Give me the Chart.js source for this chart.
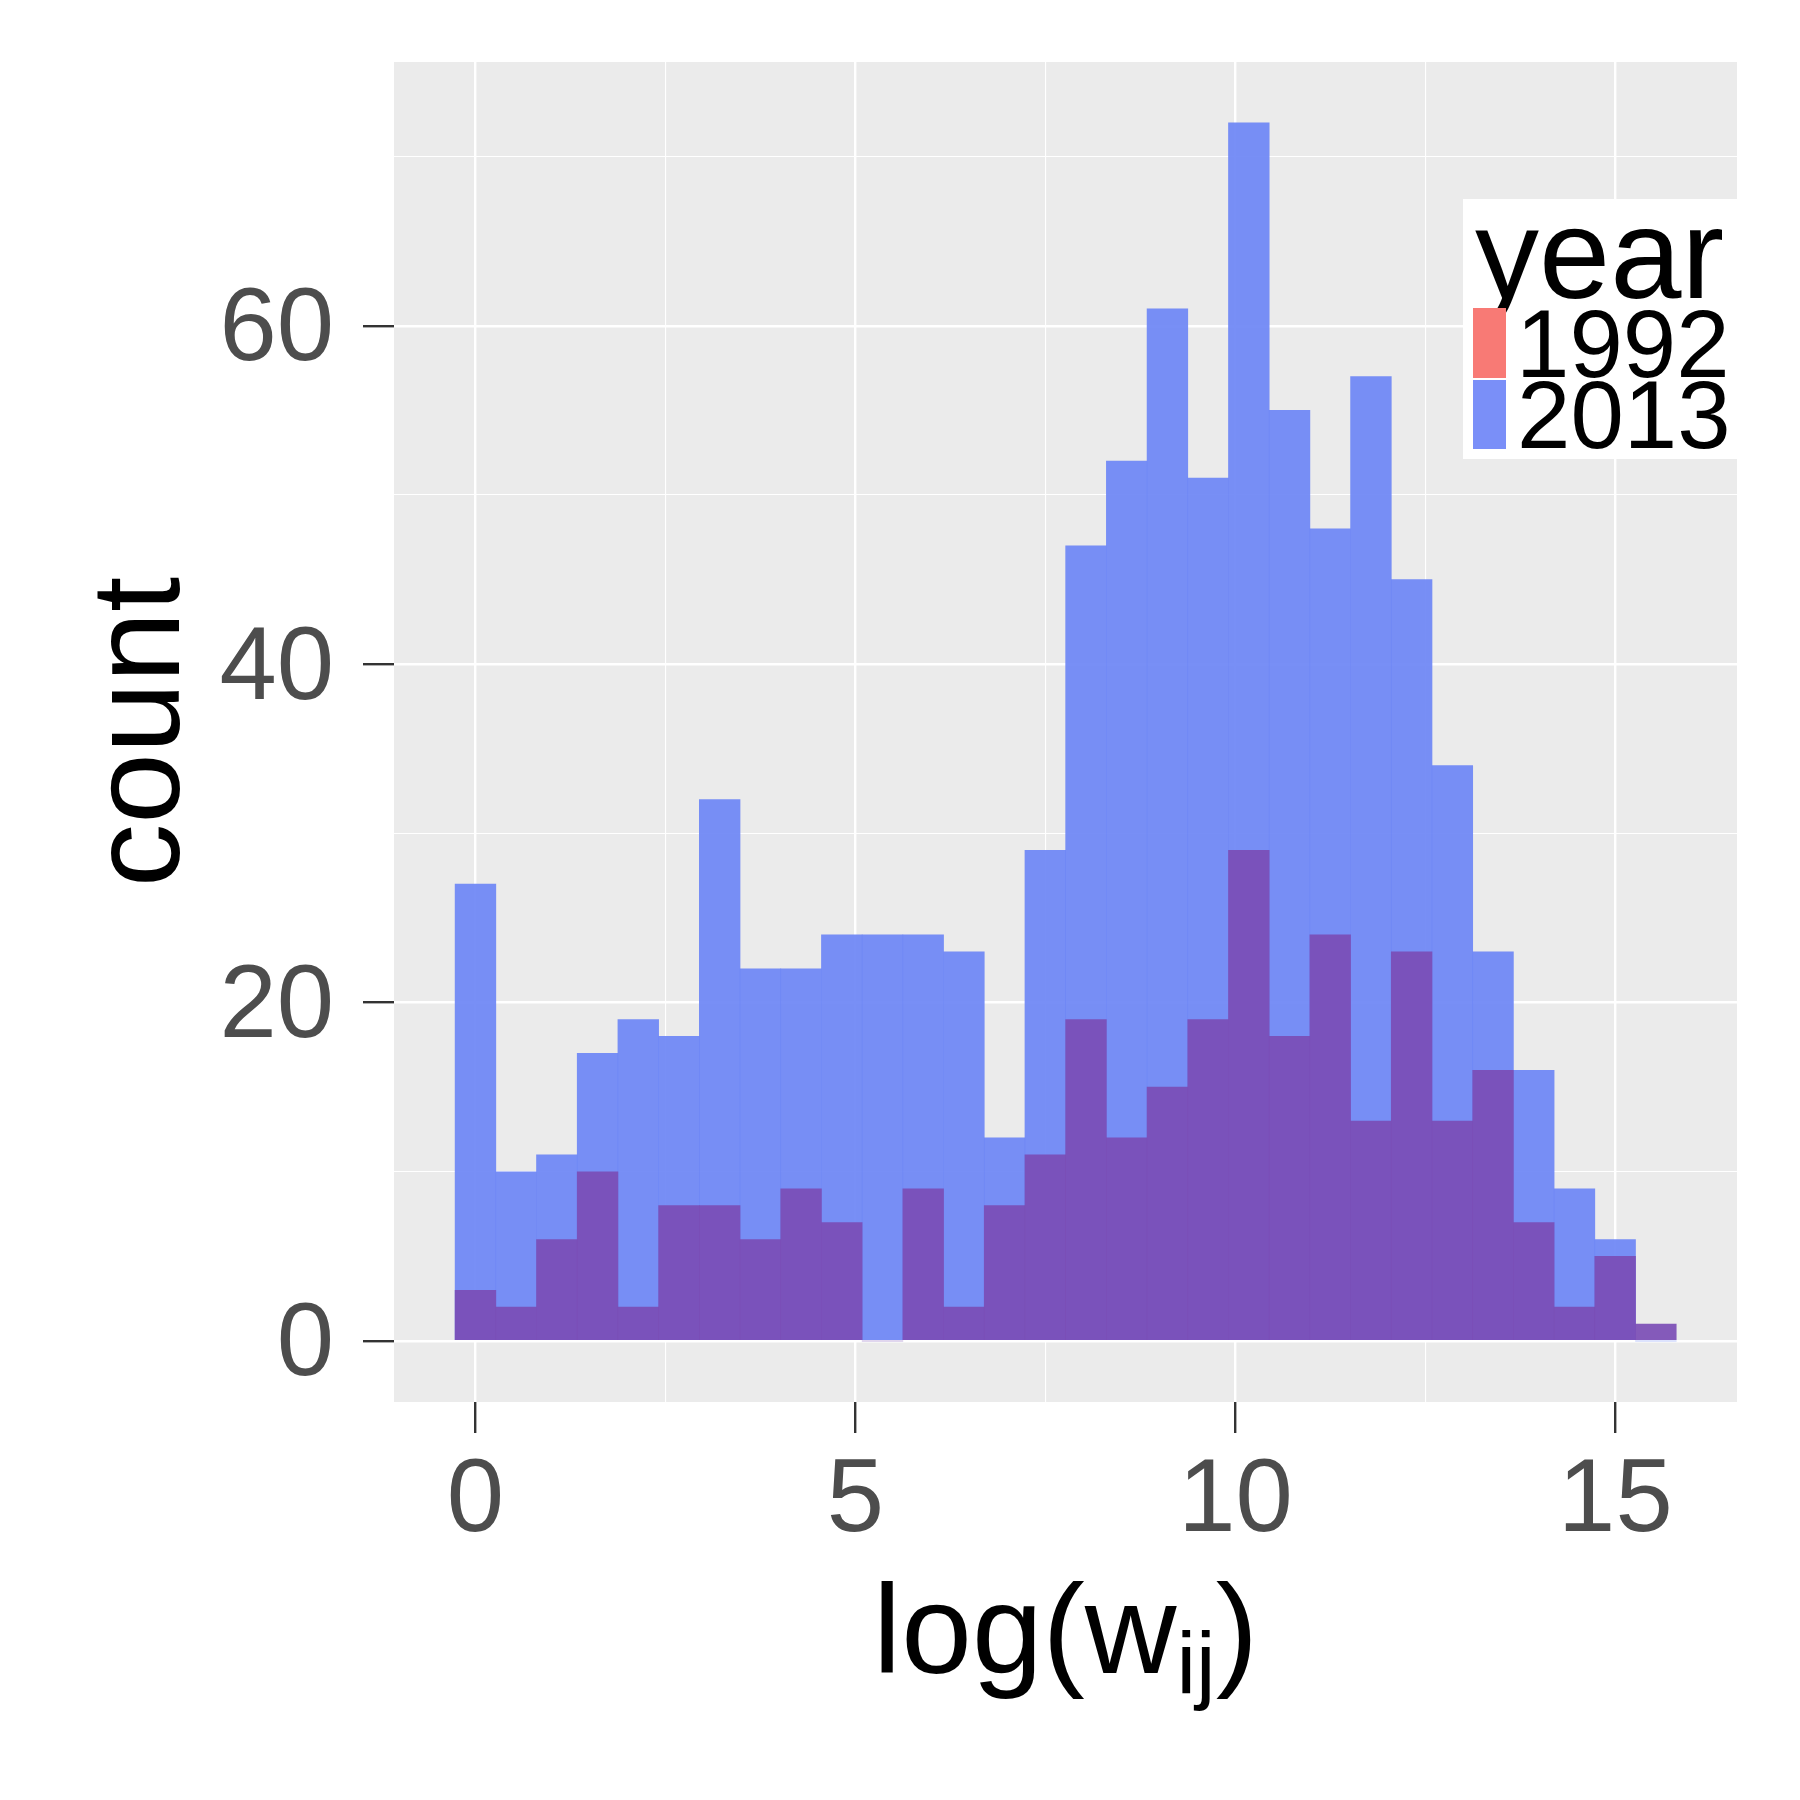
<!DOCTYPE html>
<html>
<head>
<meta charset="utf-8">
<script src="https://cdn.jsdelivr.net/npm/chart.js@4/dist/chart.umd.min.js"></script>
<style>
  body { margin: 0; background: #ffffff; }
  #wrap { width: 1800px; height: 1800px; }
</style>
</head>
<body>
<div id="wrap"><canvas id="myChart" width="1800" height="1800"></canvas></div>
<script>
// histogram bins (centres of log(w_ij) bins)
const binCenters = [0, 0.5356, 1.0712, 1.6068, 2.1424, 2.6780, 3.2136, 3.7492, 4.2848, 4.8204,
  5.3560, 5.8916, 6.4272, 6.9628, 7.4984, 8.0340, 8.5696, 9.1052, 9.6408, 10.1764,
  10.7120, 11.2476, 11.7832, 12.3188, 12.8544, 13.3900, 13.9256, 14.4612, 14.9968, 15.5324];

const count1992 = [3, 2, 6, 10, 2, 8, 8, 6, 9, 7, 0, 9, 2, 8, 11, 19, 12, 15, 19, 29,
  18, 24, 13, 23, 13, 16, 7, 2, 5, 1];
const count2013 = [27, 10, 11, 17, 19, 18, 32, 22, 22, 24, 24, 24, 23, 12, 29, 47, 52, 61, 51, 72,
  55, 48, 57, 45, 34, 23, 16, 9, 6, 0];

const years = ["1992", "2013"];
const xTickLabels = [0, 5, 10, 15];
const yTickLabels = [0, 20, 40, 60];

const FONT = "'Liberation Sans', Arial, Helvetica, sans-serif";

function toPoints(values) {
  return values.map((v, i) => ({ x: binCenters[i], y: v }));
}

// no extra room for tick labels, the panel is placed by hand
function fixBox(s) {
  s.paddingTop = 0;
  s.paddingBottom = 0;
  s.paddingLeft = 0;
  s.paddingRight = 0;
}

// grey panel + white page
const panelBg = {
  id: "panelBg",
  beforeDraw(chart) {
    const { ctx, chartArea: a } = chart;
    ctx.save();
    ctx.fillStyle = "#ffffff";
    ctx.fillRect(0, 0, chart.width, chart.height);
    ctx.fillStyle = "#EBEBEB";
    ctx.fillRect(a.left, a.top, a.right - a.left, a.bottom - a.top);
    ctx.restore();
  },
};

// axis titles and the legend box
const extras = {
  id: "extras",
  afterDraw(chart) {
    const { ctx, chartArea: a } = chart;
    ctx.save();
    ctx.fillStyle = "#000000";
    ctx.textBaseline = "alphabetic";
    ctx.textAlign = "left";

    // x title: log(w_ij)
    const big = "127px " + FONT;
    const small = "88px " + FONT;
    ctx.font = big;
    const w1 = ctx.measureText("log(w").width;
    const w3 = ctx.measureText(")").width;
    ctx.font = small;
    const w2 = ctx.measureText("ij").width;
    let x = (a.left + a.right) / 2 - (w1 + w2 + w3) / 2;
    const base = 1673;
    ctx.font = big;
    ctx.fillText("log(w", x, base);
    ctx.font = small;
    ctx.fillText("ij", x + w1, base + 20);
    ctx.font = big;
    ctx.fillText(")", x + w1 + w2, base);

    // y title
    ctx.save();
    ctx.translate(179, (a.top + a.bottom) / 2);
    ctx.rotate(-Math.PI / 2);
    ctx.textAlign = "center";
    ctx.font = big;
    ctx.fillText("count", 0, 0);
    ctx.restore();

    // legend
    ctx.fillStyle = "#ffffff";
    ctx.fillRect(1463, 199, a.right - 1463, 260);
    ctx.fillStyle = "#000000";
    ctx.font = "128px " + FONT;
    ctx.fillText("year", 1475, 298);
    ctx.fillStyle = "#F87A75";
    ctx.fillRect(1473, 308, 33, 70);
    ctx.fillStyle = "#7A8FF8";
    ctx.fillRect(1473, 380, 33, 69);
    ctx.fillStyle = "#000000";
    ctx.font = "96px " + FONT;
    ctx.fillText(years[0], 1516, 377);
    ctx.fillText(years[1], 1517, 448);
    ctx.restore();
  },
};

const data = {
  datasets: [
    {
      label: years[0],
      data: toPoints(count1992),
      backgroundColor: "rgba(123, 77, 181, 0.92)",
      borderWidth: 0,
      grouped: false,
      barPercentage: 1,
      categoryPercentage: 1,
    },
    {
      label: years[1],
      data: toPoints(count2013),
      backgroundColor: "rgba(108, 134, 245, 0.92)",
      borderWidth: 0,
      grouped: false,
      barPercentage: 1,
      categoryPercentage: 1,
    },
  ],
};

const config = {
  type: "bar",
  data,
  plugins: [panelBg, extras],
  options: {
    responsive: false,
    animation: false,
    devicePixelRatio: 1,
    layout: { padding: { left: 0, right: 63, top: 62, bottom: 0 } },
    plugins: { legend: { display: false }, tooltip: { enabled: false } },
    scales: {
      x: {
        type: "linear",
        offset: false,
        min: -1.072,
        max: 16.6,
        afterFit: (s) => { s.height = 398; fixBox(s); },
        border: { display: false },
        grid: {
          offset: false,
          color: "#ffffff",
          lineWidth: (c) => (c.tick && c.tick.value % 5 === 0 ? 2.4 : 1.1),
          tickColor: (c) => (c.tick && c.tick.value % 5 === 0 ? "#333333" : "rgba(0,0,0,0)"),
          tickWidth: 2.4,
          tickLength: 31,
        },
        ticks: {
          stepSize: 2.5,
          includeBounds: false,
          autoSkip: false,
          maxRotation: 0,
          padding: 8,
          color: "#4D4D4D",
          font: { family: FONT, size: 103 },
          callback: (v) => (xTickLabels.includes(v) ? String(v) : ""),
        },
      },
      y: {
        type: "linear",
        min: -3.606,
        max: 75.59,
        afterFit: (s) => { s.width = 394; fixBox(s); },
        border: { display: false },
        grid: {
          color: "#ffffff",
          lineWidth: (c) => (c.tick && c.tick.value % 20 === 0 ? 2.4 : 1.1),
          tickColor: (c) => (c.tick && c.tick.value % 20 === 0 ? "#333333" : "rgba(0,0,0,0)"),
          tickWidth: 2.4,
          tickLength: 31,
        },
        ticks: {
          stepSize: 10,
          includeBounds: false,
          autoSkip: false,
          padding: 29,
          labelOffset: 6,
          color: "#4D4D4D",
          font: { family: FONT, size: 103 },
          callback: (v) => (yTickLabels.includes(v) ? String(v) : ""),
        },
      },
    },
  },
};

const myChart = new Chart(document.getElementById("myChart"), config);
</script>
</body>
</html>
